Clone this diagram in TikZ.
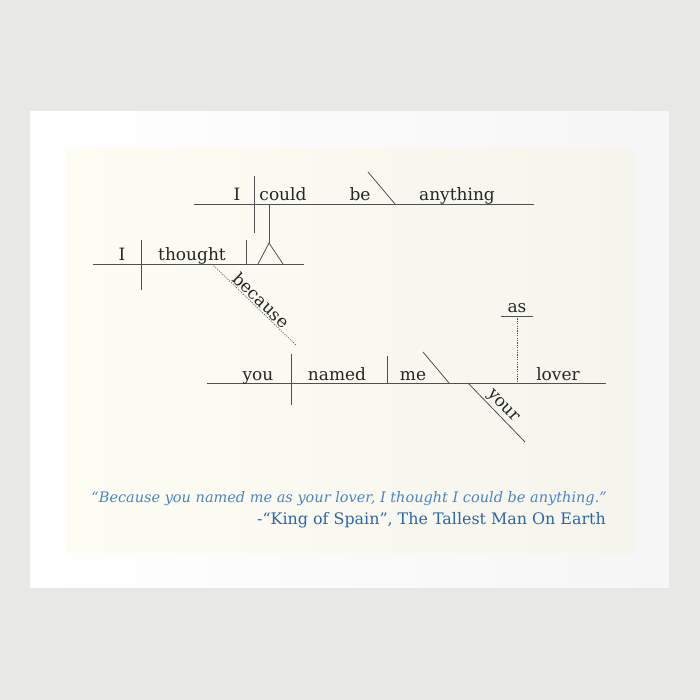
\documentclass[tikz,border=0pt]{standalone}
\usepackage{fontspec}
\setmainfont{DejaVu Serif}
\definecolor{bgcol}{HTML}{E8E8E7}
\definecolor{paperL}{HTML}{FFFFFF}
\definecolor{paperR}{HTML}{F6F6F6}
\definecolor{creamL}{HTML}{FDFDF4}
\definecolor{creamR}{HTML}{F5F5ED}
\definecolor{linegray}{HTML}{505050}
\definecolor{wordcol}{HTML}{262626}
\definecolor{quoteblue}{HTML}{4A86C4}
\definecolor{creditblue}{HTML}{2C66A6}
\begin{document}
\begin{tikzpicture}[x=1pt,y=-1pt,
  gline/.style={draw=linegray, line width=0.8pt},
  dline/.style={draw=linegray, line width=0.6pt, dash pattern=on 1.2pt off 1.2pt},
  word/.style={anchor=base, inner sep=0pt, font=\fontsize{17}{20}\selectfont, text=wordcol},
  slword/.style={inner sep=1.5pt, font=\fontsize{17}{20}\selectfont, text=wordcol},
  quote/.style={anchor=base east, inner sep=0pt, font=\fontsize{14.5}{17}\selectfont\itshape, text=quoteblue},
  credit/.style={anchor=base east, inner sep=0pt, font=\fontsize{15.9}{19}\selectfont, text=creditblue}]
\useasboundingbox (0,0) rectangle (700,700);
% background, paper and cream panel
\fill[bgcol] (0,0) rectangle (700,700);
\fill[black!10] (31,114) rectangle (670,589);
\shade[left color=paperL, right color=paperR] (30,112) rectangle (669,587);
\shade[left color=creamL, right color=creamR] (65,148) rectangle (634,552);

% ---------- main clause: I could be anything ----------
\coordinate (t1) at (194,204);
\coordinate (t2) at (534,204);
\coordinate (td1) at (254,176);
\coordinate (td2) at (254,233);
\coordinate (ts1) at (368,172);
\coordinate (ts2) at (395,204);
\draw[gline] (t1) -- (t2);
\draw[gline] (td1) -- (td2);
\draw[gline] (ts1) -- (ts2);
\node[word] (wI1) at (237,201) {I};
\node[word] (wcould) at (283,201) {could};
\node[word] (wbe) at (360,201) {be};
\node[word] (wanything) at (457,201) {anything};

% stem and pedestal
\coordinate (st1) at (269,204);
\coordinate (apex) at (269,243);
\coordinate (pl) at (258,264);
\coordinate (pr) at (283,264);
\draw[gline] (st1) -- (apex);
\draw[gline] (pl) -- (apex) -- (pr);

% ---------- I thought ----------
\coordinate (m1) at (93,264);
\coordinate (m2) at (304,264);
\coordinate (md1) at (141,240);
\coordinate (md2) at (141,290);
\coordinate (mo1) at (246,240);
\coordinate (mo2) at (246,264);
\draw[gline] (m1) -- (m2);
\draw[gline] (md1) -- (md2);
\draw[gline] (mo1) -- (mo2);
\node[word] (wI2) at (122,261) {I};
\node[word] (wthought) at (192,261) {thought};

% because
\coordinate (bc1) at (212,264);
\coordinate (bc2) at (296,345);
\draw[dline] (bc1) -- (bc2) node[pos=0.52, sloped, above, slword] (wbecause) {because};

% ---------- you named me your lover ----------
\coordinate (b1) at (207,383);
\coordinate (b2) at (606,383);
\coordinate (bd1) at (291,354);
\coordinate (bd2) at (291,405);
\coordinate (bo1) at (387,356);
\coordinate (bo2) at (387,383);
\coordinate (bs1) at (423,352);
\coordinate (bs2) at (449,383);
\draw[gline] (b1) -- (b2);
\draw[gline] (bd1) -- (bd2);
\draw[gline] (bo1) -- (bo2);
\draw[gline] (bs1) -- (bs2);
\node[word] (wyou) at (258,380) {you};
\node[word] (wnamed) at (337,380) {named};
\node[word] (wme) at (413,380) {me};
\node[word] (wlover) at (558,380) {lover};

% your
\coordinate (y1) at (468,383);
\coordinate (y2) at (525,442);
\draw[gline] (y1) -- (y2) node[pos=0.5, sloped, above, slword] (wyour) {your};

% as
\coordinate (a1) at (501,316);
\coordinate (a2) at (533,316);
\coordinate (av1) at (517,316);
\coordinate (av2) at (517,383);
\draw[gline] (a1) -- (a2);
\draw[dline] (av1) -- (av2);
\node[word] (was) at (517,312) {as};

% ---------- quote ----------
\node[quote] (q1) at (607,502) {“Because you named me as your lover, I thought I could be anything.”};
\node[credit] (q2) at (606,524) {-“King of Spain”, The Tallest Man On Earth};
\end{tikzpicture}
\end{document}
